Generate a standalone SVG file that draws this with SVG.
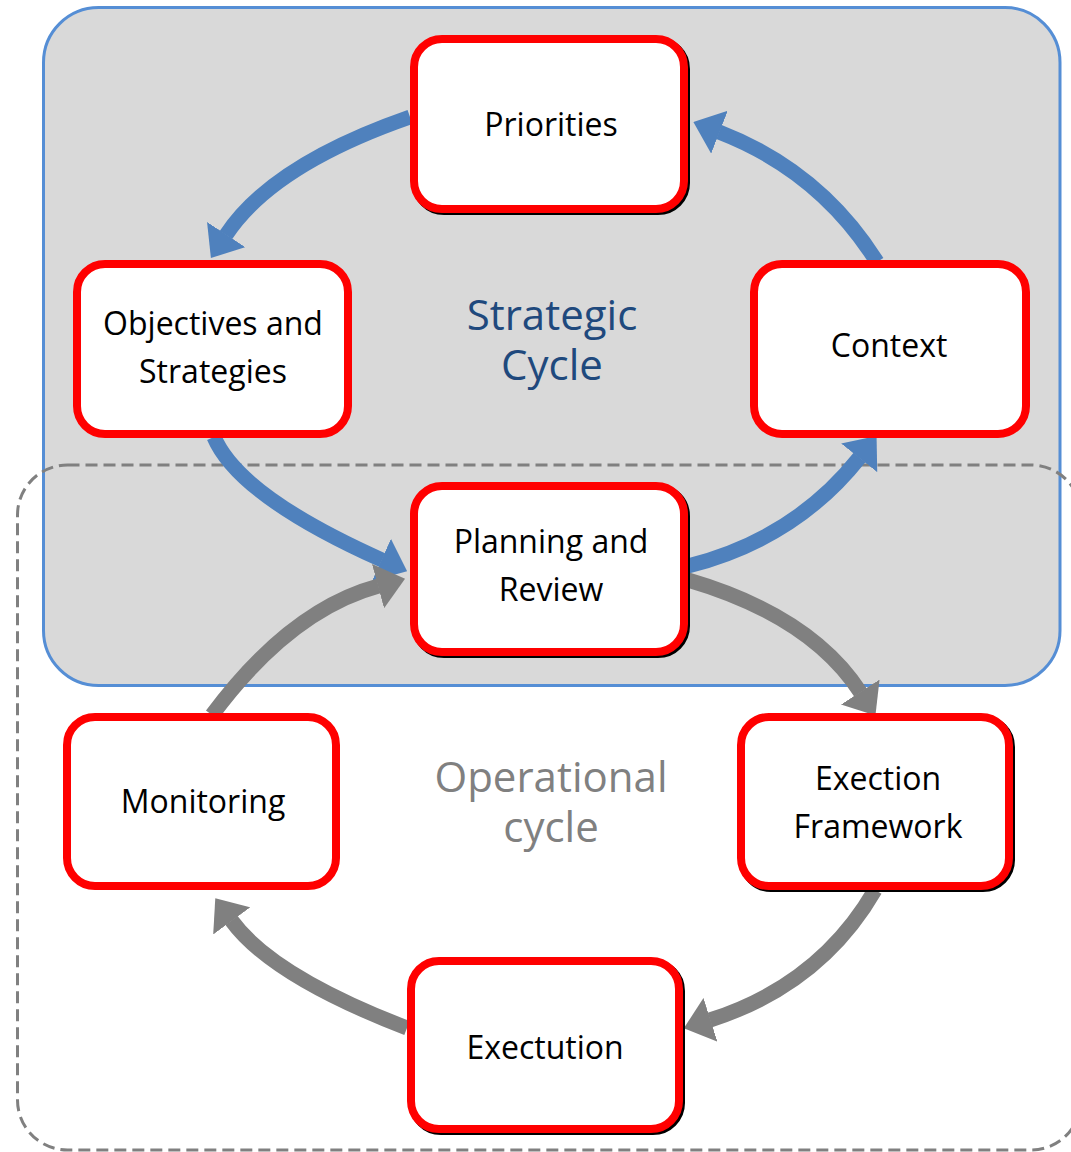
<svg xmlns="http://www.w3.org/2000/svg" width="1071" height="1152" viewBox="0 0 1071 1152">
<defs>
<style>
.node rect.box{fill:#FFFFFF;stroke:#FF0000;stroke-width:8}
.node rect.shadow{fill:none;stroke:#000000;stroke-width:8}
.node text{font-family:"Open Sans","Noto Sans",sans-serif;font-size:32px;fill:#000000;text-anchor:middle}
.label{font-family:"Open Sans","Noto Sans",sans-serif;font-size:42px;text-anchor:middle}
.blue{fill:none;stroke:#4F81BD;stroke-width:15;marker-end:url(#ahBlue)}
.gray{fill:none;stroke:#808080;stroke-width:15;marker-end:url(#ahGray)}
</style>
<marker id="ahBlue" markerUnits="userSpaceOnUse" viewBox="0 0 28 46" markerWidth="28" markerHeight="46" refX="0.5" refY="23" orient="auto">
<path d="M0,0 L28,23 L0,46 Z" fill="#4F81BD"/>
</marker>
<marker id="ahGray" markerUnits="userSpaceOnUse" viewBox="0 0 28 46" markerWidth="28" markerHeight="46" refX="0.5" refY="23" orient="auto">
<path d="M0,0 L28,23 L0,46 Z" fill="#808080"/>
</marker>
</defs>

<g id="strategic-area">
<rect x="43.5" y="7.5" width="1016.5" height="678" rx="55" ry="55" fill="#D9D9D9" stroke="#558ED5" stroke-width="3"/>
<text class="label" x="552" y="330" fill="#1F497D"><tspan x="552" y="330">Strategic</tspan><tspan x="552" y="380">Cycle</tspan></text>
</g>

<g id="operational-area">
<rect x="17.5" y="465" width="1063.5" height="685" rx="50" ry="50" fill="none" stroke="#808080" stroke-width="3" stroke-dasharray="12 6"/>
<text class="label" x="551" y="792" fill="#808080"><tspan x="551" y="792">Operational</tspan><tspan x="551" y="842">cycle</tspan></text>
</g>

<g id="connectors">
<path class="blue" d="M410,117 Q272,165 226,235"/>
<path class="blue" d="M877,262 Q820,171 719,132"/>
<path class="blue" d="M214,437 Q239,496 382,560"/>
<path class="blue" d="M688,566 Q795,539 859.5,457.5"/>
<path class="gray" d="M688,580 Q811,616 860.5,692.5"/>
<path class="gray" d="M875,890 Q820,985 710,1020"/>
<path class="gray" d="M407,1028 Q272,976 231.5,920.5"/>
<path class="gray" d="M212,715 Q290,610 378.5,586"/>
</g>

<g id="node-priorities" class="node">
<rect class="shadow" x="416" y="41" width="270" height="170" rx="28"/>
<rect class="box" x="414" y="39" width="270" height="170" rx="28"/>
<text x="551" y="136">Priorities</text>
</g>

<g id="node-objectives" class="node">
<rect class="box" x="77" y="264" width="271" height="170" rx="28"/>
<text x="213" y="335"><tspan x="213" y="335">Objectives and</tspan><tspan x="213" y="383">Strategies</tspan></text>
</g>

<g id="node-context" class="node">
<rect class="box" x="754" y="264" width="272" height="170" rx="28"/>
<text x="889" y="357">Context</text>
</g>

<g id="node-planning" class="node">
<rect class="shadow" x="416" y="488" width="270" height="166" rx="28"/>
<rect class="box" x="414" y="486" width="270" height="166" rx="28"/>
<text x="551" y="553"><tspan x="551" y="553">Planning and</tspan><tspan x="551" y="601">Review</tspan></text>
</g>

<g id="node-monitoring" class="node">
<rect class="box" x="67" y="717" width="269" height="169" rx="28"/>
<text x="203" y="813">Monitoring</text>
</g>

<g id="node-execution-framework" class="node">
<rect class="shadow" x="743" y="719" width="268" height="169" rx="28"/>
<rect class="box" x="741" y="717" width="268" height="169" rx="28"/>
<text x="878" y="790"><tspan x="878" y="790">Exection</tspan><tspan x="878" y="838">Framework</tspan></text>
</g>

<g id="node-execution" class="node">
<rect class="shadow" x="413" y="963" width="268" height="168" rx="28"/>
<rect class="box" x="411" y="961" width="268" height="168" rx="28"/>
<text x="545" y="1059">Exectution</text>
</g>
</svg>
